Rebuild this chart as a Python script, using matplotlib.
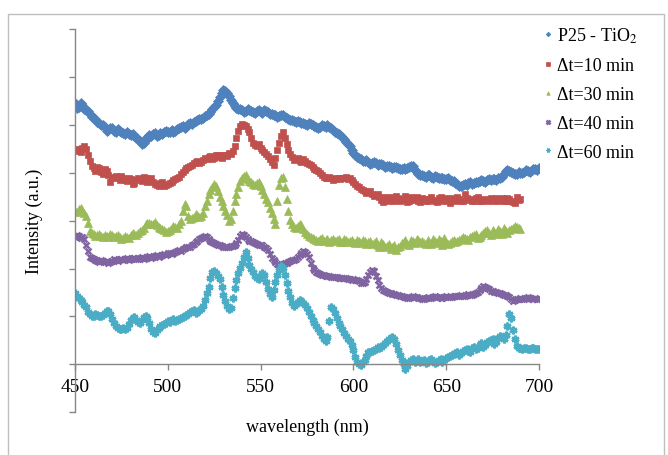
import numpy as np
import matplotlib
matplotlib.use("Agg")
import matplotlib.pyplot as plt
from matplotlib.patches import Rectangle

plt.rcParams['font.family'] = ['Liberation Serif', 'DejaVu Serif']
plt.rcParams['mathtext.fontset'] = 'stix'

# wavelength grids (nm)
wl_even_full = np.arange(450, 701, 2)   # 450..700
wl_odd_full = np.arange(451, 700, 2)    # 451..699
wl_even_short = np.arange(450, 691, 2)  # 450..690
wl_odd_short = np.arange(451, 690, 2)   # 451..689

# ---- P25 - TiO2 ----
p25_even = [5.45, 5.38, 5.42, 5.30, 5.22, 5.15, 5.06, 5.00, 4.95, 4.90,
            4.93, 4.86, 4.88, 4.82, 4.85, 4.78, 4.76, 4.70, 4.60, 4.68,
            4.78, 4.80, 4.76, 4.82, 4.86, 4.84, 4.90, 4.88, 4.94, 4.98,
            4.96, 5.04, 5.06, 5.10, 5.12, 5.18, 5.22, 5.32, 5.42, 5.58,
            5.72, 5.66, 5.52, 5.40, 5.34, 5.30, 5.28, 5.31, 5.26, 5.29,
            5.27, 5.30, 5.26, 5.22, 5.20, 5.18, 5.20, 5.14, 5.10, 5.08,
            5.09, 5.04, 5.02, 5.04, 4.99, 4.96, 4.95, 4.98, 4.99, 4.93,
            4.86, 4.80, 4.74, 4.64, 4.55, 4.42, 4.32, 4.28, 4.24, 4.22,
            4.20, 4.21, 4.18, 4.16, 4.14, 4.12, 4.11, 4.10, 4.08, 4.07,
            4.12, 4.15, 4.02, 3.96, 3.94, 3.95, 3.92, 3.93, 3.90, 3.88,
            3.86, 3.85, 3.82, 3.76, 3.73, 3.76, 3.78, 3.77, 3.80, 3.82,
            3.83, 3.85, 3.84, 3.86, 3.88, 3.92, 4.03, 4.04, 4.00, 3.98,
            4.00, 4.02, 4.04, 4.05, 4.08, 4.10]
p25_odd = [5.36, 5.46, 5.33, 5.28, 5.16, 5.12, 5.03, 4.99, 4.88, 4.94,
           4.87, 4.91, 4.84, 4.80, 4.81, 4.80, 4.73, 4.66, 4.62, 4.74,
           4.76, 4.82, 4.79, 4.80, 4.88, 4.86, 4.86, 4.92, 4.96, 4.94,
           5.01, 5.02, 5.08, 5.13, 5.15, 5.20, 5.27, 5.38, 5.50, 5.66,
           5.70, 5.60, 5.45, 5.36, 5.33, 5.26, 5.32, 5.29, 5.24, 5.30,
           5.25, 5.28, 5.23, 5.21, 5.16, 5.21, 5.16, 5.12, 5.11, 5.06,
           5.06, 5.03, 5.00, 5.01, 4.98, 4.94, 4.99, 4.96, 4.96, 4.90,
           4.83, 4.78, 4.70, 4.60, 4.48, 4.36, 4.30, 4.25, 4.26, 4.19,
           4.22, 4.17, 4.18, 4.13, 4.15, 4.10, 4.13, 4.07, 4.10, 4.10,
           4.14, 4.06, 3.98, 3.95, 3.92, 3.96, 3.90, 3.91, 3.89, 3.86,
           3.88, 3.83, 3.79, 3.72, 3.75, 3.74, 3.80, 3.79, 3.81, 3.84,
           3.81, 3.86, 3.86, 3.85, 3.90, 3.98, 4.06, 4.01, 3.97, 4.01,
           3.99, 4.05, 4.02, 4.07, 4.06]

# ---- dt = 10 min ----
t10_even = [4.45, 4.48, 4.52, 4.50, 4.25, 4.10, 4.12, 4.02, 4.08, 3.95,
            3.88, 3.94, 3.85, 3.90, 3.82, 3.86, 3.78, 3.88, 3.82, 3.90,
            3.84, 3.80, 3.74, 3.78, 3.72, 3.76, 3.80, 3.86, 3.92, 4.02,
            4.10, 4.14, 4.20, 4.24, 4.22, 4.30, 4.32, 4.28, 4.36, 4.33,
            4.38, 4.34, 4.40, 4.55, 4.88, 5.02, 4.98, 4.86, 4.62, 4.56,
            4.52, 4.44, 4.34, 4.22, 4.30, 4.62, 4.85, 4.60, 4.40, 4.26,
            4.30, 4.22, 4.24, 4.18, 4.12, 4.06, 4.00, 3.92, 3.90, 3.88,
            3.86, 3.90, 3.88, 3.92, 3.90, 3.80, 3.72, 3.66, 3.62, 3.60,
            3.56, 3.54, 3.50, 3.38, 3.46, 3.50, 3.40, 3.48, 3.44, 3.52,
            3.40, 3.46, 3.50, 3.38, 3.46, 3.42, 3.50, 3.40, 3.47, 3.42,
            3.48, 3.36, 3.45, 3.50, 3.42, 3.55, 3.44, 3.40, 3.48, 3.42,
            3.46, 3.40, 3.48, 3.44, 3.42, 3.47, 3.40, 3.45, 3.38, 3.50,
            3.46]
t10_odd = [4.50, 4.44, 4.55, 4.38, 4.15, 4.04, 4.10, 3.98, 4.04, 3.80,
           3.92, 3.88, 3.93, 3.84, 3.88, 3.76, 3.84, 3.86, 3.92, 3.80,
           3.88, 3.76, 3.72, 3.80, 3.75, 3.78, 3.84, 3.88, 3.98, 4.06,
           4.12, 4.16, 4.22, 4.20, 4.26, 4.28, 4.35, 4.30, 4.38, 4.30,
           4.36, 4.42, 4.45, 4.72, 4.98, 5.00, 4.92, 4.72, 4.58, 4.60,
           4.48, 4.40, 4.28, 4.16, 4.48, 4.76, 4.72, 4.48, 4.32, 4.28,
           4.24, 4.28, 4.20, 4.16, 4.08, 4.04, 3.96, 3.88, 3.92, 3.84,
           3.88, 3.86, 3.90, 3.86, 3.84, 3.76, 3.70, 3.64, 3.58, 3.62,
           3.52, 3.56, 3.44, 3.50, 3.40, 3.44, 3.52, 3.42, 3.46, 3.38,
           3.50, 3.44, 3.42, 3.48, 3.40, 3.46, 3.44, 3.38, 3.50, 3.44,
           3.40, 3.48, 3.42, 3.46, 3.40, 3.48, 3.45, 3.42, 3.50, 3.40,
           3.44, 3.46, 3.40, 3.48, 3.44, 3.42, 3.48, 3.42, 3.36, 3.44]

# ---- dt = 30 min ----
t30_even = [3.20, 3.24, 3.22, 3.10, 2.78, 2.72, 2.70, 2.68, 2.70, 2.66,
            2.70, 2.68, 2.66, 2.64, 2.66, 2.70, 2.72, 2.74, 2.80, 2.92,
            2.96, 2.94, 2.90, 2.84, 2.80, 2.78, 2.84, 2.86, 2.92, 3.20,
            3.30, 3.04, 3.08, 3.12, 3.10, 3.30, 3.55, 3.70, 3.72, 3.50,
            3.30, 3.12, 3.04, 3.40, 3.70, 3.90, 3.96, 3.82, 3.76, 3.78,
            3.72, 3.55, 3.38, 3.15, 2.92, 3.75, 3.92, 3.45, 3.02, 2.86,
            2.88, 2.90, 2.76, 2.68, 2.64, 2.60, 2.62, 2.58, 2.62, 2.60,
            2.58, 2.62, 2.56, 2.60, 2.58, 2.56, 2.60, 2.54, 2.58, 2.55,
            2.52, 2.58, 2.45, 2.52, 2.48, 2.40, 2.50, 2.44, 2.54, 2.60,
            2.50, 2.58, 2.62, 2.56, 2.54, 2.60, 2.52, 2.58, 2.62, 2.50,
            2.56, 2.54, 2.60, 2.58, 2.62, 2.64, 2.60, 2.68, 2.72, 2.66,
            2.74, 2.80, 2.70, 2.76, 2.82, 2.72, 2.78, 2.80, 2.84, 2.86,
            2.82]
t30_odd = [3.18, 3.26, 3.16, 2.95, 2.74, 2.68, 2.72, 2.66, 2.68, 2.72,
           2.66, 2.70, 2.62, 2.68, 2.64, 2.74, 2.70, 2.78, 2.84, 2.96,
           2.92, 2.98, 2.86, 2.82, 2.76, 2.80, 2.88, 2.84, 3.00, 3.34,
           3.10, 3.06, 3.14, 3.08, 3.16, 3.42, 3.64, 3.76, 3.62, 3.40,
           3.20, 3.00, 3.20, 3.56, 3.82, 3.94, 3.86, 3.80, 3.74, 3.80,
           3.64, 3.46, 3.26, 3.04, 3.40, 3.88, 3.70, 3.20, 2.92, 2.84,
           2.94, 2.82, 2.72, 2.66, 2.62, 2.58, 2.64, 2.60, 2.56, 2.62,
           2.60, 2.56, 2.62, 2.56, 2.60, 2.54, 2.58, 2.60, 2.52, 2.58,
           2.54, 2.50, 2.55, 2.44, 2.52, 2.46, 2.38, 2.48, 2.56, 2.52,
           2.60, 2.54, 2.60, 2.58, 2.52, 2.56, 2.62, 2.54, 2.58, 2.64,
           2.52, 2.58, 2.56, 2.60, 2.66, 2.62, 2.66, 2.70, 2.64, 2.70,
           2.78, 2.74, 2.80, 2.72, 2.78, 2.84, 2.74, 2.82, 2.88, 2.84]

# ---- dt = 40 min ----
t40_even = [2.66, 2.68, 2.66, 2.50, 2.24, 2.20, 2.16, 2.18, 2.14, 2.12,
            2.16, 2.18, 2.20, 2.17, 2.22, 2.20, 2.22, 2.19, 2.24, 2.22,
            2.26, 2.24, 2.28, 2.26, 2.30, 2.32, 2.30, 2.35, 2.38, 2.40,
            2.44, 2.46, 2.52, 2.58, 2.64, 2.68, 2.62, 2.55, 2.52, 2.50,
            2.46, 2.44, 2.48, 2.50, 2.60, 2.72, 2.66, 2.58, 2.55, 2.52,
            2.50, 2.46, 2.38, 2.22, 2.14, 2.08, 2.10, 2.12, 2.16, 2.18,
            2.24, 2.32, 2.34, 2.24, 2.02, 1.92, 1.88, 1.86, 1.84, 1.83,
            1.82, 1.81, 1.80, 1.80, 1.78, 1.78, 1.76, 1.70, 1.72, 1.86,
            1.98, 1.84, 1.66, 1.56, 1.52, 1.48, 1.46, 1.44, 1.42, 1.40,
            1.38, 1.42, 1.40, 1.38, 1.36, 1.40, 1.38, 1.42, 1.40, 1.38,
            1.42, 1.40, 1.43, 1.42, 1.44, 1.42, 1.46, 1.44, 1.48, 1.56,
            1.64, 1.60, 1.54, 1.52, 1.50, 1.46, 1.44, 1.40, 1.32, 1.36,
            1.38, 1.36, 1.40, 1.36, 1.38, 1.37]
t40_odd = [2.70, 2.64, 2.62, 2.36, 2.22, 2.18, 2.14, 2.16, 2.15, 2.14,
           2.19, 2.16, 2.21, 2.19, 2.18, 2.23, 2.20, 2.22, 2.20, 2.25,
           2.23, 2.27, 2.25, 2.29, 2.28, 2.33, 2.32, 2.36, 2.37, 2.42,
           2.46, 2.49, 2.55, 2.61, 2.66, 2.66, 2.58, 2.54, 2.50, 2.48,
           2.45, 2.46, 2.47, 2.54, 2.68, 2.70, 2.62, 2.57, 2.54, 2.50,
           2.49, 2.43, 2.30, 2.18, 2.10, 2.06, 2.11, 2.14, 2.17, 2.20,
           2.28, 2.36, 2.30, 2.12, 1.96, 1.90, 1.87, 1.85, 1.85, 1.82,
           1.83, 1.80, 1.81, 1.79, 1.77, 1.77, 1.73, 1.69, 1.78, 1.92,
           1.94, 1.76, 1.60, 1.54, 1.50, 1.47, 1.45, 1.43, 1.41, 1.39,
           1.40, 1.41, 1.39, 1.37, 1.38, 1.39, 1.40, 1.41, 1.39, 1.40,
           1.41, 1.41, 1.43, 1.43, 1.43, 1.44, 1.45, 1.46, 1.52, 1.60,
           1.62, 1.57, 1.53, 1.51, 1.48, 1.45, 1.42, 1.36, 1.34, 1.37,
           1.37, 1.38, 1.38, 1.37, 1.36]

# ---- dt = 60 min ----
t60_even = [1.48, 1.38, 1.30, 1.20, 1.05, 1.02, 1.04, 1.00, 1.08, 1.12,
            0.95, 0.80, 0.74, 0.75, 0.76, 0.92, 0.98, 0.88, 0.92, 1.02,
            0.86, 0.68, 0.72, 0.80, 0.84, 0.90, 0.92, 0.90, 0.94, 0.98,
            1.04, 1.10, 1.14, 1.10, 1.16, 1.34, 1.62, 1.92, 1.90, 1.78,
            1.45, 1.22, 1.18, 1.60, 1.90, 2.12, 2.34, 2.08, 1.92, 1.80,
            1.84, 1.86, 1.58, 1.40, 1.72, 1.96, 2.02, 1.70, 1.40, 1.22,
            1.30, 1.32, 1.24, 1.10, 0.92, 0.80, 0.68, 0.52, 0.58, 1.20,
            1.08, 0.86, 0.74, 0.60, 0.48, 0.30, 0.05, -0.02, 0.10, 0.25,
            0.28, 0.32, 0.34, 0.40, 0.48, 0.55, 0.52, 0.30, 0.10, -0.10,
            0.05, 0.12, 0.08, 0.04, 0.10, 0.06, 0.12, 0.02, 0.10, 0.06,
            0.14, 0.18, 0.22, 0.26, 0.24, 0.30, 0.28, 0.34, 0.32, 0.40,
            0.36, 0.46, 0.50, 0.42, 0.56, 0.58, 0.62, 1.05, 0.72, 0.38,
            0.34, 0.35, 0.32, 0.34, 0.33, 0.33]
t60_odd = [1.42, 1.34, 1.24, 1.10, 1.00, 1.06, 1.01, 1.04, 1.12, 1.05,
           0.86, 0.76, 0.74, 0.74, 0.84, 0.96, 0.92, 0.86, 0.98, 0.96,
           0.74, 0.66, 0.76, 0.82, 0.86, 0.88, 0.94, 0.92, 0.96, 1.00,
           1.06, 1.12, 1.08, 1.14, 1.22, 1.48, 1.80, 1.95, 1.84, 1.62,
           1.32, 1.16, 1.38, 1.76, 2.02, 2.24, 2.22, 2.00, 1.84, 1.78,
           1.90, 1.72, 1.46, 1.56, 1.86, 2.06, 1.86, 1.54, 1.28, 1.26,
           1.34, 1.28, 1.18, 1.00, 0.86, 0.74, 0.60, 0.48, 0.90, 1.16,
           0.96, 0.80, 0.66, 0.54, 0.40, 0.16, 0.00, 0.04, 0.18, 0.26,
           0.30, 0.36, 0.36, 0.44, 0.52, 0.58, 0.42, 0.20, 0.00, -0.04,
           0.10, 0.06, 0.12, 0.08, 0.02, 0.10, 0.08, 0.04, 0.12, 0.10,
           0.16, 0.20, 0.24, 0.20, 0.28, 0.32, 0.26, 0.36, 0.34, 0.44,
           0.40, 0.48, 0.52, 0.46, 0.60, 0.54, 0.80, 0.96, 0.52, 0.34,
           0.33, 0.34, 0.33, 0.35, 0.32]

labels = [r"P25 - TiO$_2$", "Δt=10 min", "Δt=30 min", "Δt=40 min", "Δt=60 min"]
colors = ["#4F81BD", "#C0504D", "#9BBB59", "#8064A2", "#4BACC6"]
xticks = [450, 500, 550, 600, 650, 700]

fig = plt.figure(figsize=(6.68, 4.56), dpi=100)
fig.patches.append(Rectangle((8/668, -0.05), (664-8)/668, 1.05 - 15/456,
                             transform=fig.transFigure, fill=False,
                             edgecolor="#BFBFBF", linewidth=1.0))
ax = fig.add_axes([75/668, 1 - 413.3/456, (539-75)/668, (413.3-30)/456])

series = [
    (np.concatenate([wl_even_full, wl_odd_full]), p25_even + p25_odd, 'D', 5.2, 0.5),
    (np.concatenate([wl_even_short, wl_odd_short]), t10_even + t10_odd, 's', 5.0, 0.5),
    (np.concatenate([wl_even_short, wl_odd_short]), t30_even + t30_odd, '^', 5.6, 0.5),
    (np.concatenate([wl_even_full, wl_odd_full]), t40_even + t40_odd, 'x', 5.0, 1.8),
    (np.concatenate([wl_even_full, wl_odd_full]), t60_even + t60_odd, (6, 2, 0), 5.6, 1.8),
]
handles = []
for (x, y, m, ms, mew), c, lab in zip(series, colors, labels):
    h, = ax.plot(x, y, linestyle='none', marker=m, markersize=ms,
                 markeredgewidth=mew, color=c, markeredgecolor=c, label=lab)
    handles.append(h)

ax.set_xlim(450, 700)
ax.set_ylim(-1, 7)
for s in ['top', 'right']:
    ax.spines[s].set_visible(False)
ax.spines['bottom'].set_position(('data', 0))
for s in ['left', 'bottom']:
    ax.spines[s].set_color('#868686')
    ax.spines[s].set_linewidth(1.0)
ax.set_yticks(np.arange(-1, 8, 1))
ax.set_yticklabels([])
ax.set_xticks(xticks)
ax.set_xticklabels([str(v) for v in xticks])
ax.tick_params(axis='both', direction='out', length=4, color='#868686', width=1.0)
ax.tick_params(axis='x', pad=6, labelsize=14)

fig.text(307/668, 1 - 427/456, "wavelength (nm)", ha='center', va='center', fontsize=13)
fig.text(34/668, 1 - 221/456, "Intensity (a.u.)", ha='center', va='center',
         rotation=90, fontsize=13)

leg = fig.legend(handles=handles, labels=labels, loc='upper left',
                 bbox_to_anchor=(527/668, 1 - 10.5/456), frameon=False,
                 fontsize=13, handlelength=0.5, handletextpad=0.25,
                 labelspacing=0.66, markerscale=0.45)

fig.savefig("out.png", dpi=100)
